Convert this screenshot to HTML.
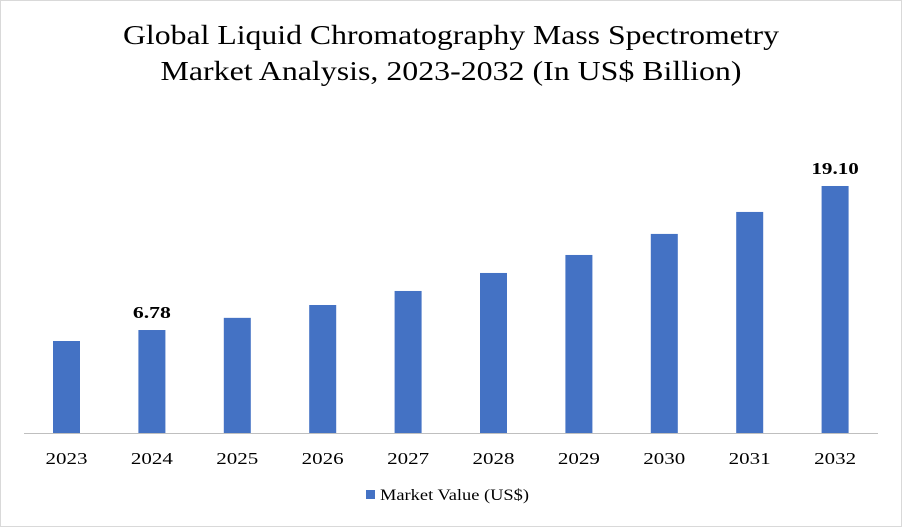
<!DOCTYPE html>
<html><head><meta charset="utf-8"><style>
body{margin:0;background:#fff}
svg{display:block;font-family:"Liberation Serif",serif}
</style></head><body>
<svg width="902" height="527">
<rect x="0.5" y="0.5" width="901" height="526" fill="#fff" stroke="#d9d9d9"/>
<text x="451" y="44" text-anchor="middle" font-size="27" fill="#000" textLength="656" lengthAdjust="spacingAndGlyphs">Global Liquid Chromatography Mass Spectrometry</text>
<text x="451" y="80" text-anchor="middle" font-size="27" fill="#000" textLength="581" lengthAdjust="spacingAndGlyphs">Market Analysis, 2023-2032 (In US$ Billion)</text>
<g id="bars"></g>
<line x1="24" y1="433.5" x2="878" y2="433.5" stroke="#bfbfbf"/>
<g id="labels"></g>
<rect x="366" y="490" width="9" height="9" fill="#4472c4"/>
<text x="380" y="500" font-size="16" fill="#000" textLength="149" lengthAdjust="spacingAndGlyphs">Market Value (US$)</text>
</svg>
<script>
const categories=["2023","2024","2025","2026","2027","2028","2029","2030","2031","2032"];
const values=[5.84,6.78,7.82,8.92,10.12,11.66,13.2,15.0,16.88,19.10];
const valueLabels=["","6.78","","","","","","","","19.10"];
const ns="http://www.w3.org/2000/svg";
const base=433, vMin=-2.03, k=11.69, x0=66.5, step=85.4, bw=27;
const xPos=i=>x0+i*step;
const yPos=v=>base-(v-vMin)*k;
const gb=document.getElementById('bars'), gl=document.getElementById('labels');
categories.forEach((c,i)=>{
  const r=document.createElementNS(ns,'rect');
  r.setAttribute('x',xPos(i)-bw/2);r.setAttribute('y',yPos(values[i]));
  r.setAttribute('width',bw);r.setAttribute('height',base-yPos(values[i]));
  r.setAttribute('fill','#4472c4');
  
  
  gb.appendChild(r);
  const t=document.createElementNS(ns,'text');
  t.setAttribute('x',xPos(i));t.setAttribute('y',464);
  t.setAttribute('text-anchor','middle');t.setAttribute('font-size','17');
  t.setAttribute('textLength','42');t.setAttribute('lengthAdjust','spacingAndGlyphs');
  t.textContent=c;
  
  
  gl.appendChild(t);
  if(valueLabels[i]){
    const v=document.createElementNS(ns,'text');
    v.setAttribute('x',xPos(i));v.setAttribute('y',yPos(values[i])-12);
    v.setAttribute('text-anchor','middle');v.setAttribute('font-size','17');
    v.setAttribute('font-weight','bold');
    v.setAttribute('textLength',valueLabels[i].length*9.5);
    v.setAttribute('lengthAdjust','spacingAndGlyphs');
    v.textContent=valueLabels[i];
    
    
    gl.appendChild(v);
  }
});
</script>
</body></html>
